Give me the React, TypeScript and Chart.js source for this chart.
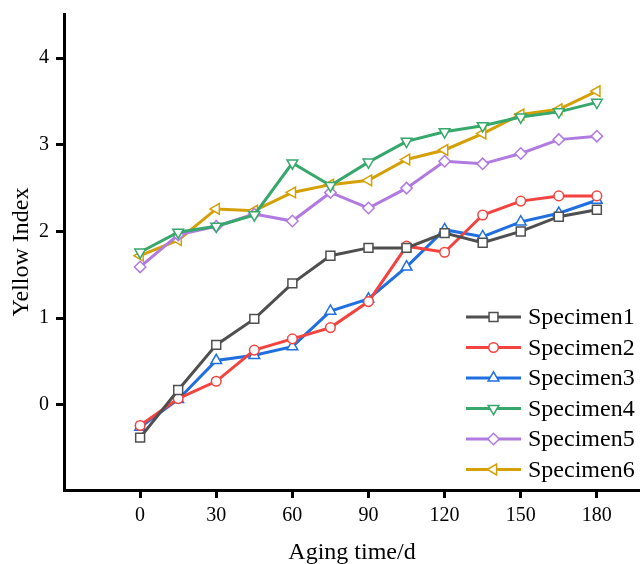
import React, { useEffect, useRef } from "react";
import { Chart, registerables } from "chart.js";
import { drawPoint } from "chart.js/helpers";

Chart.register(...registerables);

const days = [0, 15, 30, 45, 60, 75, 90, 105, 120, 135, 150, 165, 180];
const seriesNames = ["Specimen1", "Specimen2", "Specimen3", "Specimen4", "Specimen5", "Specimen6"];
const specimen1 = [-0.38, 0.17, 0.69, 0.99, 1.40, 1.72, 1.81, 1.81, 1.98, 1.87, 2.00, 2.17, 2.25];
const specimen2 = [-0.24, 0.07, 0.27, 0.63, 0.76, 0.89, 1.19, 1.83, 1.76, 2.19, 2.35, 2.41, 2.41];
const specimen3 = [-0.26, 0.06, 0.51, 0.57, 0.67, 1.08, 1.22, 1.59, 2.02, 1.94, 2.11, 2.21, 2.36];
const specimen4 = [1.76, 1.99, 2.06, 2.19, 2.79, 2.53, 2.80, 3.04, 3.15, 3.22, 3.32, 3.38, 3.49];
const specimen5 = [1.59, 1.96, 2.06, 2.20, 2.12, 2.45, 2.27, 2.50, 2.81, 2.78, 2.90, 3.06, 3.10];
const specimen6 = [1.72, 1.90, 2.26, 2.24, 2.45, 2.54, 2.59, 2.83, 2.94, 3.13, 3.35, 3.41, 3.62];
const xTickValues = [0, 30, 60, 90, 120, 150, 180];
const yTickValues = [0, 1, 2, 3, 4];

const allSeries = [specimen1, specimen2, specimen3, specimen4, specimen5, specimen6];
const colors = ["#4f4f4f", "#f2433f", "#1f6fe0", "#36a86b", "#b07ae0", "#d4a005"];
const styles = ["rect", "circle", "triangle", "triangle", "rectRot", "triangle"];
const rotations = [0, 0, 0, 180, 0, -90];
const radii = [6.3, 4.8, 6.2, 6.2, 5.7, 6.2];

const FONT = "'Times New Roman', 'Liberation Serif', serif";

const legendPlugin = {
  id: "lineMarkerLegend",
  afterDraw(chart: any) {
    const ctx = chart.ctx;
    const x0 = 466;
    const x1 = 521;
    const tx = 528;
    const rowY = [317, 347.5, 378, 408.5, 439, 469.5];
    ctx.save();
    chart.data.datasets.forEach((ds: any, i: number) => {
      const y = rowY[i];
      ctx.strokeStyle = ds.borderColor;
      ctx.lineWidth = 3;
      ctx.beginPath();
      ctx.moveTo(x0, y);
      ctx.lineTo(x1, y);
      ctx.stroke();
      ctx.fillStyle = "#ffffff";
      ctx.strokeStyle = ds.borderColor;
      ctx.lineWidth = 1.5;
      drawPoint(ctx, { pointStyle: ds.pointStyle, rotation: ds.pointRotation, radius: ds.pointRadius, borderWidth: 1.5 }, (x0 + x1) / 2, y);
      ctx.fillStyle = "#000000";
      ctx.font = `24px ${FONT}`;
      ctx.textAlign = "left";
      ctx.textBaseline = "middle";
      ctx.fillText(ds.label, tx, y + 1);
    });
    ctx.restore();
  },
};

export default function App() {
  const ref = useRef<HTMLCanvasElement | null>(null);
  useEffect(() => {
    if (!ref.current) return;
    const datasets = allSeries.map((s, i) => ({
      label: seriesNames[i],
      data: days.map((d, j) => ({ x: d, y: s[j] })),
      borderColor: colors[i],
      backgroundColor: "#ffffff",
      borderWidth: 3,
      pointStyle: styles[i],
      pointRotation: rotations[i],
      pointRadius: radii[i],
      pointBorderWidth: 1.5,
      pointBackgroundColor: "#ffffff",
      pointBorderColor: colors[i],
      tension: 0,
      clip: false,
    }));
    const chart = new Chart(ref.current, {
      type: "line",
      data: { datasets },
      plugins: [legendPlugin],
      options: {
        animation: false,
        responsive: false,
        maintainAspectRatio: false,
        layout: { autoPadding: false, padding: { top: 14, right: 0, left: 0, bottom: 0 } },
        plugins: { legend: { display: false }, tooltip: { enabled: false } },
        scales: {
          x: {
            type: "linear",
            min: -30,
            max: 197,
            afterBuildTicks: (scale: any) => {
              scale.ticks = xTickValues.map((v) => ({ value: v }));
            },
            afterFit: (scale: any) => {
              scale.height = 74;
              scale.paddingLeft = 0;
              scale.paddingRight = 0;
            },
            grid: { display: true, drawOnChartArea: false, drawTicks: true, tickLength: 8, tickWidth: 3, tickColor: "#000" },
            border: { display: true, width: 3, color: "#000" },
            ticks: { color: "#000", font: { family: FONT, size: 20 }, padding: 6, maxRotation: 0, autoSkip: false },
            title: { display: true, text: "Aging time/d", color: "#000", font: { family: FONT, size: 24, lineHeight: 1 }, padding: { top: 0, bottom: -1 } },
          },
          y: {
            type: "linear",
            min: -0.985,
            max: 4.51,
            afterBuildTicks: (scale: any) => {
              scale.ticks = yTickValues.map((v) => ({ value: v }));
            },
            afterFit: (scale: any) => {
              scale.width = 64;
              scale.paddingTop = 0;
              scale.paddingBottom = 0;
            },
            grid: { display: true, drawOnChartArea: false, drawTicks: true, tickLength: 8, tickWidth: 3, tickColor: "#000" },
            border: { display: true, width: 3, color: "#000" },
            ticks: { color: "#000", font: { family: FONT, size: 20 }, padding: 7 },
            title: { display: true, text: "Yellow Index", color: "#000", font: { family: FONT, size: 24, lineHeight: 1 }, padding: { top: 10, bottom: 0 } },
          },
        },
      },
    } as any);
    return () => chart.destroy();
  }, []);
  return (
    <div style={{ position: "absolute", left: 0, top: 0, width: 640, height: 564, background: "#fff" }}>
      <canvas ref={ref} width={640} height={564} style={{ display: "block", width: 640, height: 564 }} />
    </div>
  );
}
